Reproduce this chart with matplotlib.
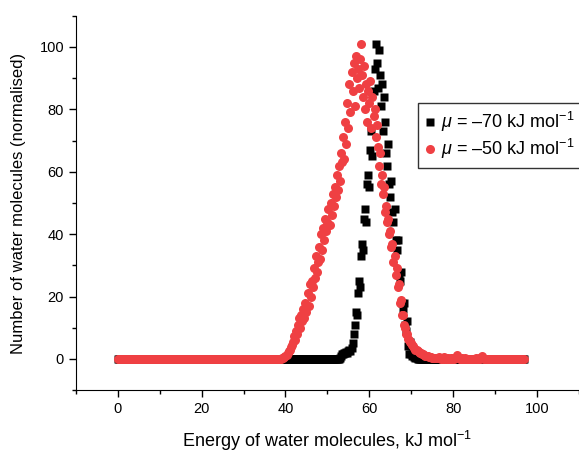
import numpy as np
import matplotlib
matplotlib.use("Agg")
import matplotlib.pyplot as plt

plt.rcParams['font.family'] = ['Liberation Sans', 'DejaVu Sans']
plt.rcParams['mathtext.fontset'] = 'custom'
plt.rcParams['mathtext.rm'] = 'Liberation Sans'
plt.rcParams['mathtext.it'] = 'Liberation Sans:italic'

# energy bins, kJ/mol
energy = np.arange(0, 97.25, 0.25)

# mu = -70: non-zero part starts at 53.0
black_start = 53.0
black_peak = [0.3, 0.8, 1.5, 1.5, 1.8, 2.0, 2.2, 2.0, 2.5, 2.8, 2.5, 3.5,
              5, 8, 11, 15, 14, 21, 25, 23, 33, 37, 35, 45, 48, 44, 56, 59,
              55, 67, 73, 65, 86, 93, 101, 95, 87, 99, 91, 81, 88, 73, 84, 76,
              66, 62, 69, 56, 52, 57, 47, 44, 48, 38, 35, 38, 27, 25, 28, 18,
              16, 18, 11, 9, 12, 4, 1.5, 5.5, 1.5, 0.8, 2.0, 0.5, 0.3, 0.2, 0, 0]

# mu = -50: non-zero part starts at 39.0
red_start = 39.0
red_peak = [0.1, 0.2, 0.4, 0.6,
            0.8, 1.2, 1.8, 2.5, 3.0, 3.8, 4.5, 5.5, 7.5, 6.0, 9.0, 8.0, 11, 13, 10, 14,
            12, 16, 13, 18, 15, 21, 17, 24, 20, 25, 23, 29, 26, 33, 28, 31,
            36, 32, 40, 35, 42, 38, 45, 41, 44, 48, 43, 50, 46, 53, 49, 55,
            52, 59, 54, 62, 57, 66, 63, 71, 64, 76, 69, 82, 74, 88, 79, 92,
            86, 95, 81, 97, 90, 93, 87, 96, 101, 91, 84, 94, 80, 88, 76, 86,
            82, 89, 74, 84, 78, 80, 71, 75, 68, 62, 66, 56, 59, 53, 55, 47,
            49, 44, 45, 40, 41, 36, 37, 31, 33, 27, 29, 23, 24, 18, 19, 14,
            14, 11, 10, 8, 8, 6.5, 6, 5.5, 5, 4.5, 4, 3.5, 3, 2.8, 2.5, 2.2,
            2, 1.8, 1.5, 1.5, 1.2, 1, 1, 0.8, 0.8, 0.6, 0.5, 0.5, 0.4, 0.4, 0.3, 0.3,
            0.3, 0.2, 0.5, 0.2, 0.1, 0.2, 0.1, 0.6, 0.1, 0.2, 0.1, 0.3, 0.1, 0.1, 0.2, 0.1,
            0.2, 0.1, 0.3, 0.2, 1.2, 0.3, 0.1, 0.1, 0.2, 0.1, 0.1, 0.2, 0.1, 0, 0.1, 0,
            0, 0.1, 0, 0.1, 0, 0.1, 0.2, 0.1, 0, 0.2, 0.1, 1.0, 0.2, 0, 0.1, 0]


def full_series(start, peak):
    i0 = int(round(start / 0.25))
    vals = [0.0] * i0 + list(peak)
    vals += [0.0] * (len(energy) - len(vals))
    return np.array(vals)


black = full_series(black_start, black_peak)
red = full_series(red_start, red_peak)

fig = plt.figure(figsize=(5.79, 4.51), dpi=100)
ax = fig.add_axes([0.131, 0.135, 0.869, 0.83])

ax.plot(energy, black, 's', color='black', ms=5.5, mec='none',
        label=r'$\mu$ = –70 kJ mol$^{-1}$', clip_on=False)
ax.plot(energy, red, 'o', color='#ef4043', ms=6.5, mec='none',
        label=r'$\mu$ = –50 kJ mol$^{-1}$', clip_on=False)

ax.set_xlim(-10, 110)
ax.set_ylim(-10, 110)
ax.set_xticks(range(0, 101, 20))
ax.set_xticks(range(-10, 111, 10), minor=True)
ax.set_yticks(range(0, 101, 20))
ax.set_yticks(range(-10, 111, 10), minor=True)
ax.tick_params(which='major', length=5, width=1, labelsize=10.5)
ax.tick_params(which='minor', length=3, width=1)
ax.spines['top'].set_visible(False)
ax.spines['right'].set_visible(False)

ax.set_xlabel('Energy of water molecules, kJ mol$^{-1}$', fontsize=13, labelpad=9)
ax.set_ylabel('Number of water molecules (normalised)', fontsize=12, labelpad=10)

leg = ax.legend(loc='upper left', bbox_to_anchor=(418 / 579, 1 - 103 / 451),
                bbox_transform=fig.transFigure, fontsize=13, frameon=True,
                fancybox=False, edgecolor='black', handlelength=0.5,
                handletextpad=0.35, borderpad=0.4, labelspacing=0.15,
                borderaxespad=0)
leg.get_frame().set_linewidth(1)

fig.savefig('out.png', dpi=100)
